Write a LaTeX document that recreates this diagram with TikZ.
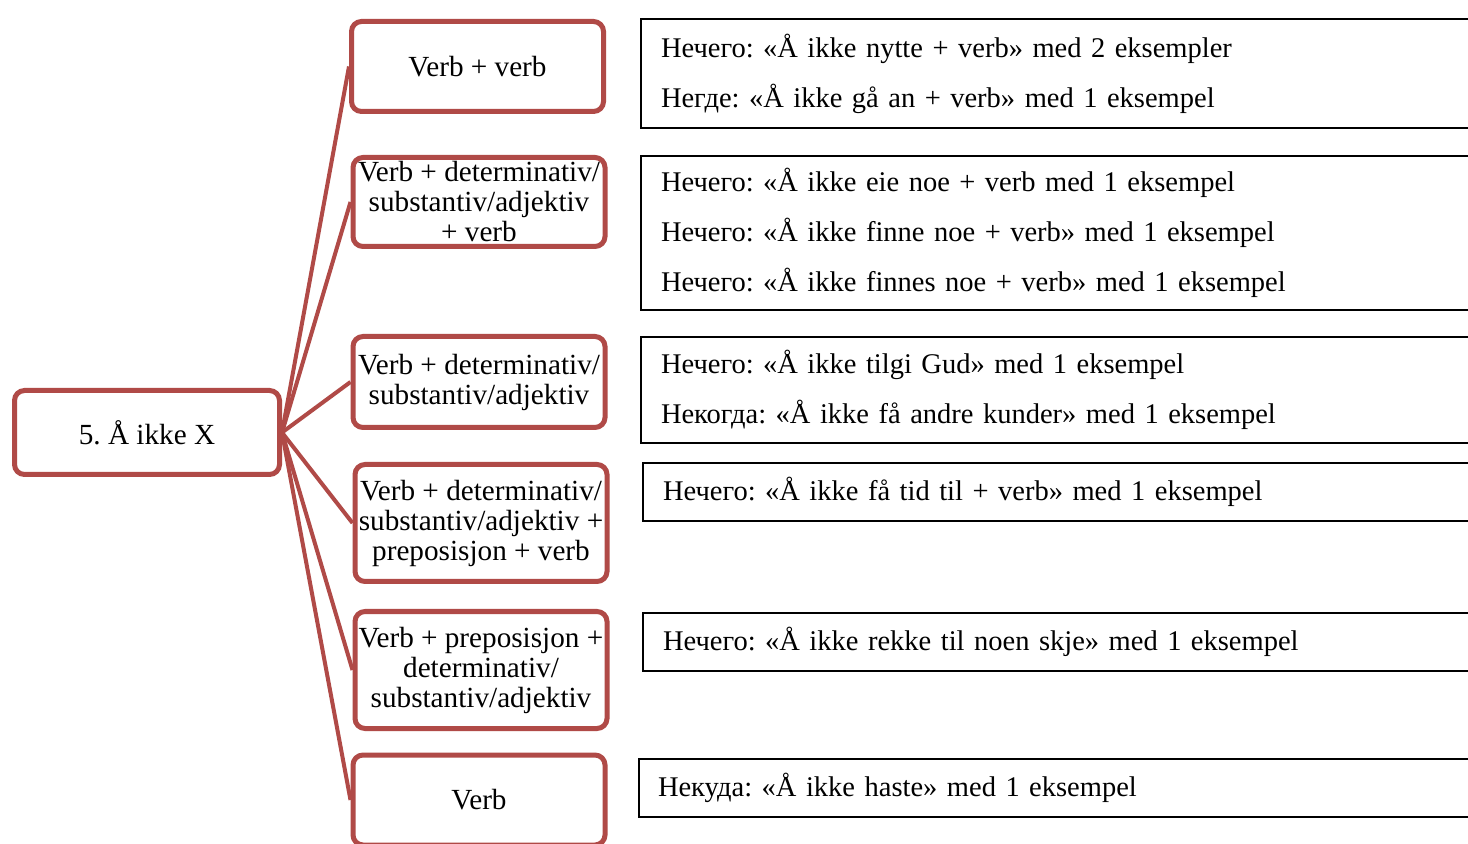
\documentclass[tikz,border=0pt]{standalone}
\usepackage{fontspec}
\setmainfont{Liberation Serif}
\usetikzlibrary{positioning}
\definecolor{boxred}{RGB}{176,74,71}
\tikzset{
  catbox/.style={draw=boxred, line width=2.5pt, rounded corners=5pt, align=center,
    inner sep=0.5pt, minimum width=126pt, font=\fontsize{14.6}{15}\selectfont\frenchspacing},
  examplebox/.style={draw=black, line width=1pt, anchor=north west, align=left,
    inner xsep=10pt, text width=440pt, font=\fontsize{14.25}{25}\selectfont\frenchspacing},
  link/.style={draw=boxred, line width=2pt}
}
\begin{document}
\begin{tikzpicture}[x=0.5pt, y=-0.5pt]
    \useasboundingbox[fill=white] (0,0) rectangle (1468,844);

    % Root
    \node[catbox, minimum width=132.5pt, minimum height=42pt] (root) at (147,432.5) {5. Å ikke X};

    % Middle column: constructions
    \node[catbox, minimum height=45pt]   (m1) at (477.5,66.5) {Verb + verb};
    \node[catbox, minimum height=44.5pt] (m2) at (479,202) {Verb + determinativ/\\substantiv/adjektiv\\+ verb};
    \node[catbox, minimum height=45.5pt] (m3) at (479,382) {Verb + determinativ/\\substantiv/adjektiv};
    \node[catbox, minimum height=58.5pt] (m4) at (481,523) {Verb + determinativ/\\substantiv/adjektiv +\\preposisjon + verb};
    \node[catbox, minimum height=58.5pt] (m5) at (481,670) {Verb + preposisjon +\\determinativ/\\substantiv/adjektiv};
    \node[catbox, minimum height=45pt]   (m6) at (479,800) {Verb};

    % Connectors from the root
    \foreach \m in {m1,m2,m3,m4,m5,m6} {
        \draw[link] (root.east) -- (\m.west);
    }

    % Right column: examples (open towards the right edge)
    \node[examplebox, minimum height=54.5pt] (e1) at (640,18)
        {Нечего: «Å ikke nytte + verb» med 2 eksempler\\Негде: «Å ikke gå an + verb» med 1 eksempel};
    \node[examplebox, minimum height=77pt] (e2) at (640,155)
        {Нечего: «Å ikke eie noe + verb med 1 eksempel\\Нечего: «Å ikke finne noe + verb» med 1 eksempel\\Нечего: «Å ikke finnes noe + verb» med 1 eksempel};
    \node[examplebox, minimum height=53pt] (e3) at (640,336)
        {Нечего: «Å ikke tilgi Gud» med 1 eksempel\\Некогда: «Å ikke få andre kunder» med 1 eksempel};
    \node[examplebox, minimum height=29pt] (e4) at (642,462)
        {Нечего: «Å ikke få tid til + verb» med 1 eksempel};
    \node[examplebox, minimum height=29pt] (e5) at (642,612)
        {Нечего: «Å ikke rekke til noen skje» med 1 eksempel};
    \node[examplebox, minimum height=29pt, inner xsep=9.5pt] (e6) at (638,758)
        {Некуда: «Å ikke haste» med 1 eksempel};
\end{tikzpicture}
\end{document}
